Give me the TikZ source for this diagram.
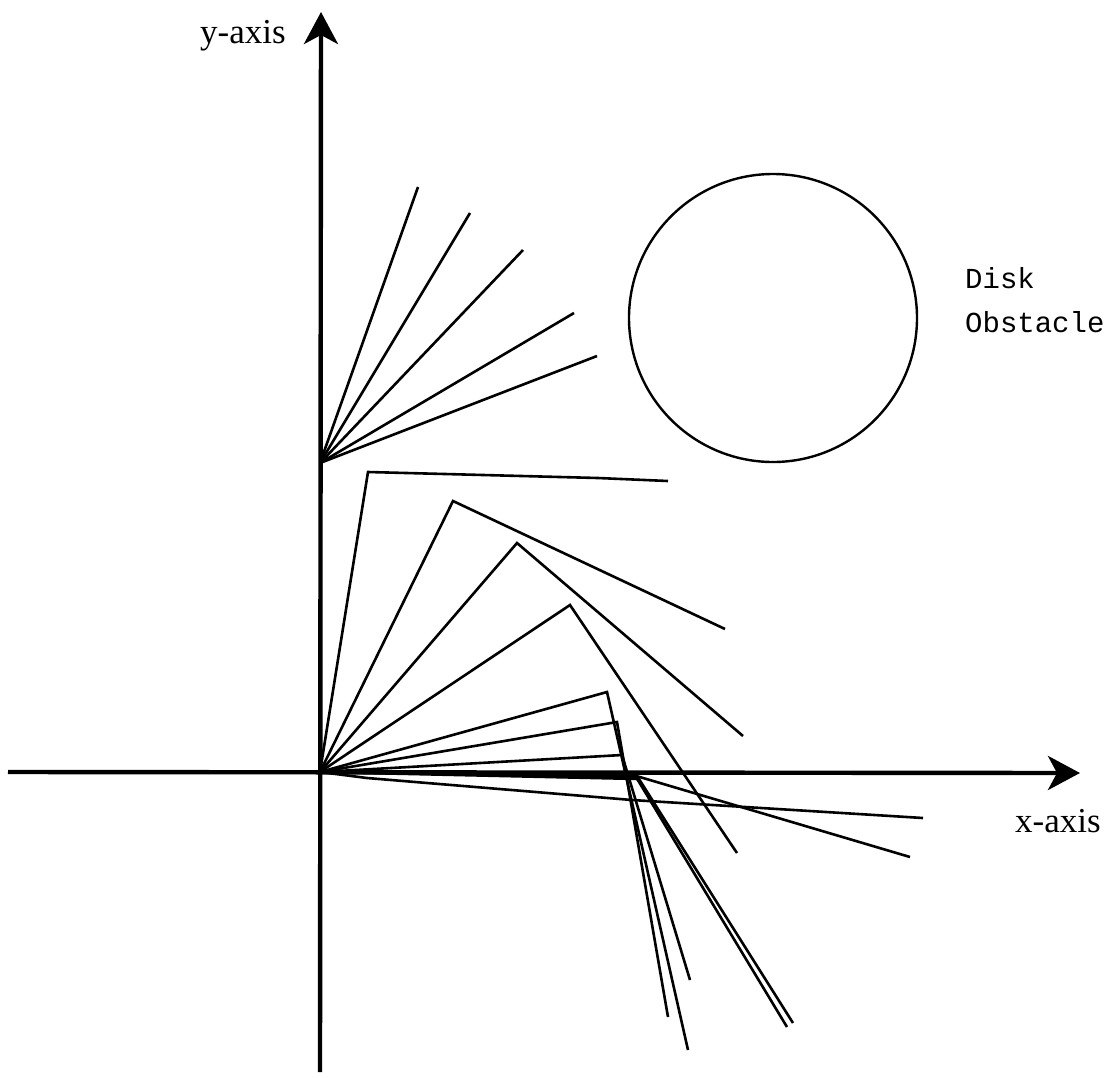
\documentclass[tikz,border=0pt]{standalone}
\usepackage{fontspec}
\setmainfont{Liberation Serif}
\newfontfamily\monolab{Liberation Mono}
\usetikzlibrary{arrows.meta}
\tikzset{
  axisline/.style={line width=4.4pt,-{Stealth[length=32pt,width=34pt,inset=9pt]}},
  ray/.style={line width=2.6pt,line join=miter},
  axlabel/.style={anchor=base west,inner sep=0pt,font=\fontsize{35}{40}\selectfont},
  disklabel/.style={anchor=base west,inner sep=0pt,font=\monolab\fontsize{29}{34}\selectfont}
}
\begin{document}
\begin{tikzpicture}[x=1pt,y=-1pt]
\useasboundingbox (0,0) rectangle (1114,1077);
% key points
\coordinate (O) at (320,772);
\coordinate (Yf) at (320,463);
\coordinate (ybot) at (320,1072);
\coordinate (ytip) at (321,12);
\coordinate (xleft) at (8,772);
\coordinate (xtip) at (1080,773);
% upper fan ends
\coordinate (u1) at (418,187);
\coordinate (u2) at (470,213);
\coordinate (u3) at (523,250);
\coordinate (u4) at (574,313);
\coordinate (u5) at (597,356);
% lower fan turning points and ends
\coordinate (t1) at (368,472); \coordinate (m1a) at (445,474); \coordinate (m1b) at (598,478); \coordinate (e1) at (668,481);
\coordinate (t2) at (453,501); \coordinate (e2) at (725,629);
\coordinate (t3) at (517,543); \coordinate (e3) at (743,736);
\coordinate (t4) at (570,605); \coordinate (e4) at (737,853);
\coordinate (t5) at (607,692); \coordinate (e5) at (688,1050);
\coordinate (t6) at (617,722); \coordinate (e6) at (668,1017);
\coordinate (t7) at (622,755); \coordinate (e7) at (690,980);
\coordinate (t8) at (633,775); \coordinate (e8) at (910,857);
\coordinate (t9) at (636,777); \coordinate (e9) at (787,1027);
\coordinate (t10) at (639,779); \coordinate (e10) at (793,1023);
\coordinate (s11) at (367,778); \coordinate (t11) at (632,800); \coordinate (e11) at (923,818);

% disk obstacle
\node[draw,circle,line width=2.4pt,minimum size=288pt,inner sep=0pt] (disk) at (773,318) {};

% upper fan
\foreach \e in {u1,u2,u3,u4,u5} \draw[ray] (Yf) -- (\e);

% lower fan
\draw[ray] (O) -- (t1) -- (m1a) -- (m1b) -- (e1);
\draw[ray] (O) -- (t2) -- (e2);
\draw[ray] (O) -- (t3) -- (e3);
\draw[ray] (O) -- (t4) -- (e4);
\draw[ray] (O) -- (t5) -- (e5);
\draw[ray] (O) -- (t6) -- (e6);
\draw[ray] (O) -- (t7) -- (e7);
\draw[ray] (O) -- (t8) -- (e8);
\draw[ray] (O) -- (t9) -- (e9);
\draw[ray] (O) -- (t10) -- (e10);
\draw[ray] (O) -- (s11) -- (t11) -- (e11);

% axes
\draw[axisline] (ybot) -- (ytip);
\draw[axisline] (xleft) -- (xtip);

% labels
\node[axlabel] (ylab) at (200,43) {y-axis};
\node[axlabel] (xlab) at (1015,832) {x-axis};
\node[disklabel] (dlab1) at (965,288) {Disk};
\node[disklabel] (dlab2) at (965,332) {Obstacle};
\end{tikzpicture}
\end{document}
